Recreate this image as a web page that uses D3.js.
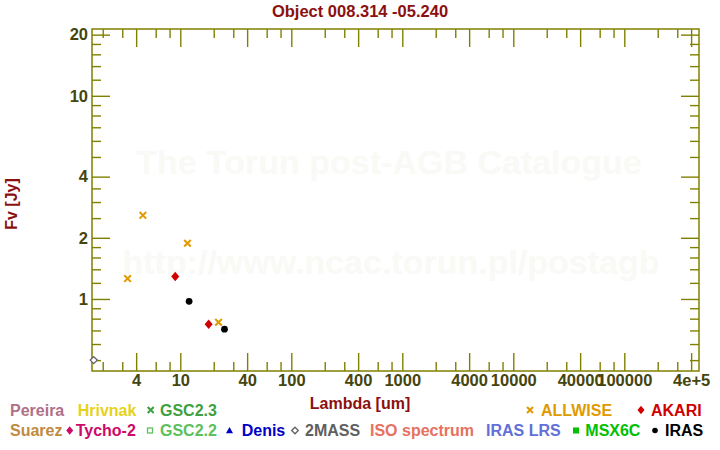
<!DOCTYPE html>
<html><head><meta charset="utf-8">
<script src="https://cdn.jsdelivr.net/npm/d3@7"></script>
<style>
html,body{margin:0;padding:0;background:#fff;}
svg{display:block;font-family:"Liberation Sans",Arial,Helvetica,sans-serif;font-weight:bold;}
</style></head>
<body>
<svg id="chart" width="720" height="450"></svg>
<script>
// ---- data ----
const title = "Object 008.314 -05.240";
const allwiseLambda = [3.35, 4.6, 11.6, 22.1];
const allwiseFlux   = [1.26, 2.58, 1.88, 0.768];
const akariLambda = [9, 18];
const akariFlux   = [1.29, 0.751];
const irasLambda = [12, 25];
const irasFlux   = [0.974, 0.71];
const twomassLambda = [1.66];
const twomassFlux   = [0.50];

const xMajorTicks = [4, 10, 40, 100, 400, 1000, 4000, 10000, 40000, 100000, 400000];
const xMajorLabels = ["4", "10", "40", "100", "400", "1000", "4000", "10000", "40000", "100000", "4e+5"];
const xMinorTicks = [2, 3, 6, 8, 20, 30, 60, 80, 200, 300, 600, 800, 2000, 3000, 6000, 8000,
  20000, 30000, 60000, 80000, 200000, 300000];
const yMajorTicks = [1, 2, 4, 10, 20];
const yMajorLabels = ["1", "2", "4", "10", "20"];
const yMinorTicks = [0.5, 0.6, 0.7, 0.8, 0.9, 1.2, 1.4, 1.6, 1.8, 2.5, 3, 3.5, 5, 6, 7, 8, 9, 12, 14, 16, 18];

const legendRow1 = ["Pereira", "Hrivnak", "GSC2.3", "ALLWISE", "AKARI"];
const legendRow2 = ["Suarez", "Tycho-2", "GSC2.2", "Denis", "2MASS", "ISO spectrum", "IRAS LRS", "MSX6C", "IRAS"];

// ---- styles / layout ----
const colors = {
  "Pereira": "#b07088", "Hrivnak": "#e6d21a", "GSC2.3": "#3fa03f", "ALLWISE": "#e09a00",
  "AKARI": "#d00000", "Suarez": "#c08a40", "Tycho-2": "#cc0a6a", "GSC2.2": "#5cc05c",
  "Denis": "#0000c8", "2MASS": "#606060", "ISO spectrum": "#e87060", "IRAS LRS": "#6070d8",
  "MSX6C": "#00c000", "IRAS": "#000000"
};
const symbols = { "GSC2.3": "x", "ALLWISE": "x", "AKARI": "diamond", "Tycho-2": "diamond",
  "GSC2.2": "osquare", "Denis": "triangle", "2MASS": "odiamond", "MSX6C": "square", "IRAS": "circle" };
const row1Layout = { "Pereira": [10, null], "Hrivnak": [77.7, null], "GSC2.3": [160, 150.7],
  "ALLWISE": [541, 530], "AKARI": [651, 641] };
const row2Layout = { "Suarez": [10, null], "Tycho-2": [75.7, 69.7], "GSC2.2": [160, 150],
  "Denis": [241.7, 229.5], "2MASS": [305, 295], "ISO spectrum": [370, null], "IRAS LRS": [486, null],
  "MSX6C": [585.3, 576], "IRAS": [665, 655] };

const L = 92, R = 699, T = 29, B = 371;
const axisColor = "#808000", tickLabelColor = "#45450f", titleColor = "#8b1010";

const svg = d3.select("#chart");
const x = d3.scaleLog().domain([1.601, 4.71e5]).range([L, R]);
const y = d3.scaleLog().domain([0.442, 21.32]).range([B, T]);

// watermark
svg.append("text").attr("x", 389).attr("y", 174).attr("text-anchor", "middle")
  .attr("font-size", 34).attr("fill", "#f9f9f5").text("The Torun post-AGB Catalogue");
svg.append("text").attr("x", 391).attr("y", 274).attr("text-anchor", "middle")
  .attr("font-size", 34).attr("fill", "#f9f9f5").text("http://www.ncac.torun.pl/postagb");

// title
svg.append("text").attr("x", 360).attr("y", 17).attr("text-anchor", "middle")
  .attr("font-size", 16.5).attr("fill", titleColor).text(title);

// axes via d3 axis generators
function addAxis(gen, tx, ty) {
  const g = svg.append("g").attr("transform", `translate(${tx},${ty})`).call(gen);
  g.select(".domain").remove();
  g.selectAll(".tick line").attr("stroke", axisColor).attr("stroke-width", 1.4);
  g.selectAll(".tick text").attr("fill", tickLabelColor).attr("font-size", 16.5)
    .attr("font-weight", "bold").attr("font-family", "Liberation Sans, Arial, sans-serif");
  return g;
}
// bottom
addAxis(d3.axisBottom(x).tickValues(xMajorTicks).tickSize(-18).tickPadding(3.5)
  .tickFormat((d, i) => xMajorLabels[i]), 0, B);
addAxis(d3.axisBottom(x).tickValues(xMinorTicks).tickSize(-9).tickFormat(""), 0, B);
// top
addAxis(d3.axisTop(x).tickValues(xMajorTicks).tickSize(-18).tickFormat(""), 0, T);
addAxis(d3.axisTop(x).tickValues(xMinorTicks).tickSize(-9).tickFormat(""), 0, T);
// left
addAxis(d3.axisLeft(y).tickValues(yMajorTicks).tickSize(-18).tickPadding(4)
  .tickFormat((d, i) => yMajorLabels[i]), L, 0);
addAxis(d3.axisLeft(y).tickValues(yMinorTicks).tickSize(-9).tickFormat(""), L, 0);
// right
addAxis(d3.axisRight(y).tickValues(yMajorTicks).tickSize(-18).tickFormat(""), R, 0);
addAxis(d3.axisRight(y).tickValues(yMinorTicks).tickSize(-9).tickFormat(""), R, 0);

// frame
svg.append("rect").attr("x", L).attr("y", T).attr("width", R - L).attr("height", B - T)
  .attr("fill", "none").attr("stroke", axisColor).attr("stroke-width", 1.5);

// axis titles
svg.append("text").attr("x", 360).attr("y", 409).attr("text-anchor", "middle")
  .attr("font-size", 16).attr("fill", titleColor).text("Lambda [um]");
svg.append("text").attr("transform", "translate(17,204) rotate(-90)").attr("text-anchor", "middle")
  .attr("font-size", 16).attr("fill", titleColor).text("Fv [Jy]");

// marker drawing
function drawMarker(g, type, cx, cy, color, s) {
  if (type === "x") {
    g.append("path").attr("d", `M${cx - s},${cy - s}L${cx + s},${cy + s}M${cx - s},${cy + s}L${cx + s},${cy - s}`)
      .attr("stroke", color).attr("stroke-width", 2).attr("fill", "none");
  } else if (type === "diamond") {
    g.append("path").attr("d", `M${cx},${cy - s - 0.7}L${cx + s},${cy}L${cx},${cy + s + 0.7}L${cx - s},${cy}Z`)
      .attr("fill", color);
  } else if (type === "odiamond") {
    g.append("path").attr("d", `M${cx},${cy - s}L${cx + s},${cy}L${cx},${cy + s}L${cx - s},${cy}Z`)
      .attr("fill", "#fff").attr("stroke", color).attr("stroke-width", 1.3);
  } else if (type === "circle") {
    g.append("circle").attr("cx", cx).attr("cy", cy).attr("r", s).attr("fill", color);
  } else if (type === "square") {
    g.append("rect").attr("x", cx - s).attr("y", cy - s).attr("width", 2 * s).attr("height", 2 * s).attr("fill", color);
  } else if (type === "osquare") {
    g.append("rect").attr("x", cx - s).attr("y", cy - s).attr("width", 2 * s).attr("height", 2 * s)
      .attr("fill", "none").attr("stroke", color).attr("stroke-width", 1.3);
  } else if (type === "triangle") {
    g.append("path").attr("d", `M${cx},${cy - s}L${cx + s},${cy + s * 0.8}L${cx - s},${cy + s * 0.8}Z`).attr("fill", color);
  }
}

// data points
const pts = svg.append("g");
twomassLambda.forEach((l, i) => drawMarker(pts, "odiamond", x(l), y(twomassFlux[i]), colors["2MASS"], 3.5));
allwiseLambda.forEach((l, i) => drawMarker(pts, "x", x(l), y(allwiseFlux[i]), colors["ALLWISE"], 3.3));
akariLambda.forEach((l, i) => drawMarker(pts, "diamond", x(l), y(akariFlux[i]), colors["AKARI"], 4));
irasLambda.forEach((l, i) => drawMarker(pts, "circle", x(l), y(irasFlux[i]), colors["IRAS"], 3.4));

// legend
const leg = svg.append("g");
function legendRow(names, layout, baseline) {
  names.forEach(n => {
    const [tx, mx] = layout[n];
    if (mx !== null) {
      const sz = { "x": 3, "diamond": 3.5, "osquare": 2.5, "triangle": 3.5, "odiamond": 3.3, "square": 3, "circle": 2.8 }[symbols[n]];
      drawMarker(leg, symbols[n], mx, baseline - 5.5, colors[n], sz);
    }
    leg.append("text").attr("x", tx).attr("y", baseline).attr("font-size", 16)
      .attr("fill", colors[n]).text(n);
  });
}
legendRow(legendRow1, row1Layout, 415.5);
legendRow(legendRow2, row2Layout, 436);
</script>
</body></html>
